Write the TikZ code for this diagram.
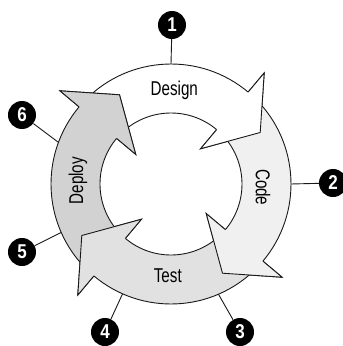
\documentclass[tikz,border=0pt]{standalone}
\usepackage{fontspec}
\newfontfamily\lblfont{Liberation Sans}
\usetikzlibrary{positioning}

\definecolor{codegray}{HTML}{F0F0F0}
\definecolor{testgray}{HTML}{E1E1E1}
\definecolor{deploygray}{HTML}{D2D2D2}

% one ring arrow: start angle, head base angle, fill
\newcommand{\ringarrow}[3]{%
  \path[arrowline, fill=#3] (#1:120) arc[start angle=#1, end angle=#2, radius=120]
    -- (#2:145) -- ({#2-20}:103) -- (#2:46) -- (#2:71)
    arc[start angle=#2, end angle=#1, radius=71] -- cycle;}
% head only, drawn again on top of the next tail
\newcommand{\ringhead}[2]{%
  \path[fill=#2] (#1:120) -- (#1:145) -- ({#1-20}:103) -- (#1:46) -- (#1:71) -- cycle;
  \draw[arrowline] (#1:120) -- (#1:145) -- ({#1-20}:103) -- (#1:46) -- (#1:71);}

\begin{document}
\begin{tikzpicture}[
        x=1pt, y=1pt,
        arrowline/.style={draw=black!90, line width=0.9pt, line join=miter},
        lbl/.style={font=\lblfont\fontsize{20}{20}\selectfont, inner sep=0pt},
        num/.style={circle, fill=black, text=white, minimum size=28pt, inner sep=0pt,
            font=\lblfont\bfseries\fontsize{20}{20}\selectfont},
        link/.style={draw=black!90, line width=0.9pt}
    ]
        \useasboundingbox (-171,-162) rectangle (172,184);

        % Arrows
        \ringarrow{135}{50}{white}
        \ringarrow{45}{-40}{codegray}
        \ringarrow{-45}{-130}{testgray}
        \ringarrow{225}{140}{deploygray}
        \ringhead{50}{white}
        \ringhead{-40}{codegray}
        \ringhead{-130}{testgray}
        \ringhead{140}{deploygray}

        % Labels
        \node[lbl] (design) at (88:94) {\scalebox{0.76}[1]{Design}};
        \node[lbl, rotate=-90] (code) at (-2:92) {\scalebox{0.76}[1]{Code}};
        \node[lbl] (test) at (-92:92) {\scalebox{0.76}[1]{Test}};
        \node[lbl, rotate=90] (deploy) at (178:93) {\scalebox{0.76}[1]{Deploy}};

        % Steps
        \node[num] (n1) at (1,159) {\scalebox{0.85}[1]{1}};
        \node[num] (n2) at (162,1) {\scalebox{0.85}[1]{2}};
        \node[num] (n3) at (69,-148) {\scalebox{0.85}[1]{3}};
        \node[num] (n4) at (-66,-148) {\scalebox{0.85}[1]{4}};
        \node[num] (n5) at (-149,-68) {\scalebox{0.85}[1]{5}};
        \node[num] (n6) at (-149,69) {\scalebox{0.85}[1]{6}};
        \coordinate (r1) at (90:120);
        \coordinate (r2) at (0:120);
        \coordinate (r3) at (-66.7:120);
        \coordinate (r4) at (-113.8:120);
        \coordinate (r5) at (203.8:120);
        \coordinate (r6) at (159.7:120);

        \draw[link] (n1) -- (r1);
        \draw[link] (n2) -- (r2);
        \draw[link] (n3) -- (r3);
        \draw[link] (n4) -- (r4);
        \draw[link] (n5) -- (r5);
        \draw[link] (n6) -- (r6);
    \end{tikzpicture}
\end{document}
